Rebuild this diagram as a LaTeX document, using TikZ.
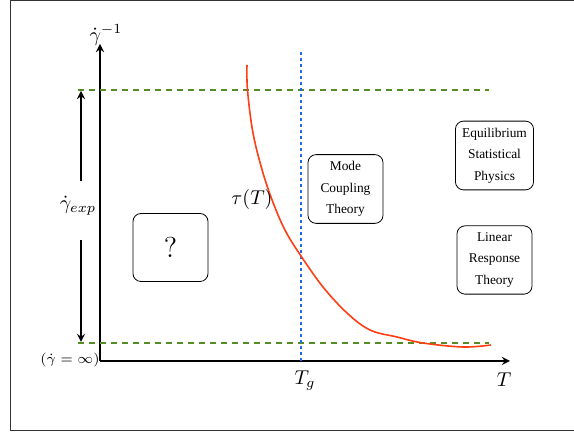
\documentclass[tikz,border=0pt]{standalone}
\usepackage{amsmath}
\usepackage{fontspec}
\newfontfamily\regimefont{Liberation Serif}
\definecolor{curvered}{RGB}{255,62,20}
\definecolor{levelgreen}{RGB}{85,140,35}
\definecolor{tgblue}{RGB}{30,105,240}
\begin{document}
\begin{tikzpicture}[x=0.5pt, y=-0.5pt, >=stealth,
  regime/.style={draw, rounded corners=4pt, minimum width=37.5pt, minimum height=34pt,
    align=center, font=\regimefont\fontsize{6.7}{10.8}\selectfont},
  level/.style={levelgreen, dash pattern=on 3pt off 2.5pt, semithick}]
  \useasboundingbox (0,0) rectangle (574,432);
  % frame of the screenshot
  \draw[black!80] (574,0.5) -- (10,0.5) -- (10,430) -- (574,430);

  % axes
  \coordinate (O) at (100,361);
  \coordinate (xend) at (510,361);
  \coordinate (yend) at (100,44);
  \draw[->, thick] (O) -- (xend);
  \draw[->, thick] (O) -- (yend);
  \node at (504,380) {$T$};
  \node at (106,35) {$\dot\gamma^{-1}$};
  \node[font=\fontsize{7.5}{9}\selectfont] at (70,360) {$(\dot\gamma=\infty)$};

  % experimental window
  \coordinate (hiL) at (78,90);
  \coordinate (hiR) at (489,90);
  \coordinate (loL) at (78,343);
  \coordinate (loR) at (489,343);
  \draw[level] (hiL) -- (hiR);
  \draw[level] (loL) -- (loR);
  \node (gexp) at (78,206) {$\dot\gamma_{exp}$};
  \coordinate (upstart) at (81,181);
  \coordinate (downstart) at (81,240);
  \draw[->, thick] (upstart) -- (81,91);
  \draw[->, thick] (downstart) -- (81,342);

  % glass temperature
  \coordinate (Tgtop) at (301,52);
  \coordinate (Tgbot) at (301,364);
  \draw[tgblue, dash pattern=on 1.5pt off 1.5pt, thick] (Tgtop) -- (Tgbot);
  \node at (305,381) {$T_g$};

  % relaxation time
  \draw[curvered, thick] plot[smooth, tension=0.6] coordinates {(247,65) (247.5,90) (253,133)
    (263,173) (274,205) (286,232) (301,256) (323,287) (347,313) (370,330) (397,337)
    (423,343) (463,347) (491,345)};
  \node at (252,200) {$\tau(T)$};

  % regimes
  \node[regime] (unknown) at (170.5,247.5) {\normalfont\Large ?};
  \node[regime] (mct) at (345.5,189) {Mode\\Coupling\\Theory};
  \node[regime] (esp) at (494.5,155.5) {Equilibrium\\Statistical\\Physics};
  \node[regime] (lrt) at (494.5,260) {Linear\\Response\\Theory};
\end{tikzpicture}
\end{document}
